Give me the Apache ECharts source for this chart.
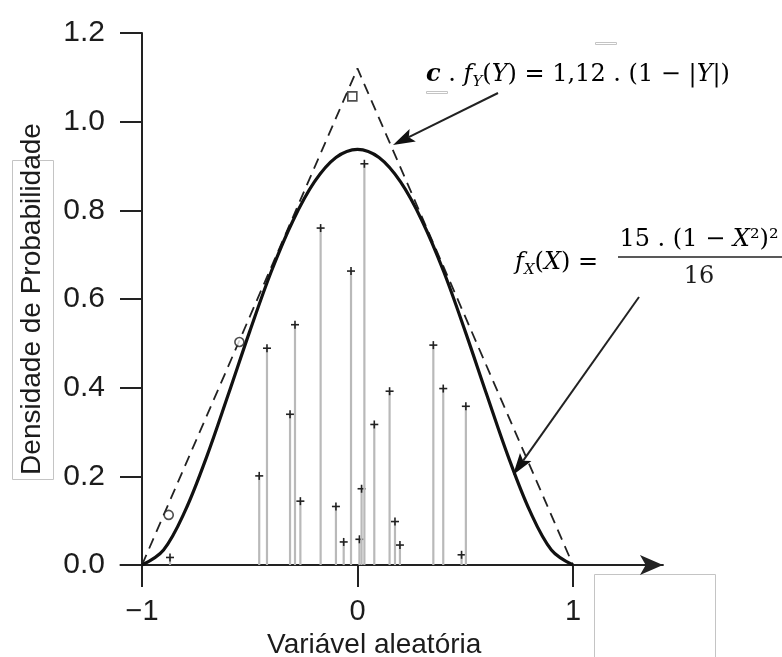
<!DOCTYPE html>
<html><head><meta charset="utf-8">
<script src="https://cdn.jsdelivr.net/npm/echarts@6/dist/echarts.min.js"></script>
<style>html,body{margin:0;padding:0;background:#fff}#c{width:782px;height:657px}</style>
</head><body><div id="c"></div>
<script>
// ---- data ----
const xTickValues = [-1, 0, 1];
const xTickLabels = ['−1', '0', '1'];
const yTickLabels = ['0.0', '0.2', '0.4', '0.6', '0.8', '1.0', '1.2'];

// sampled candidates (stems)
const sampleX = [-0.870, -0.456, -0.420, -0.313, -0.290, -0.265, -0.171, -0.100, -0.064, -0.030,
                 0.009, 0.019, 0.032, 0.078, 0.149, 0.174, 0.197, 0.352, 0.398, 0.483, 0.503];
const sampleY = [0.017, 0.201, 0.489, 0.340, 0.542, 0.144, 0.760, 0.132, 0.052, 0.663,
                 0.058, 0.172, 0.905, 0.317, 0.392, 0.098, 0.045, 0.496, 0.398, 0.023, 0.358];

// target density f_X (solid curve)
const targetX = [-1, -0.9, -0.8, -0.7, -0.6, -0.5, -0.4, -0.3, -0.2, -0.1, 0,
                 0.1, 0.2, 0.3, 0.4, 0.5, 0.6, 0.7, 0.8, 0.9, 1];
const targetY = [0, 0.034, 0.122, 0.244, 0.384, 0.527, 0.662, 0.776, 0.864, 0.919, 0.9375,
                 0.919, 0.864, 0.776, 0.662, 0.527, 0.384, 0.244, 0.122, 0.034, 0];

// envelope c.f_Y (dashed)
const envelopeX = [-1, 0, 1];
const envelopeY = [0, 1.12, 0];

// open markers
const circleX = [-0.876, -0.548];
const circleY = [0.113, 0.503];
const squareX = [-0.024];
const squareY = [1.057];

const zip = (a, b) => a.map((v, i) => [v, b[i]]);

const FONT = '"Liberation Sans", Arial, Helvetica, sans-serif';
const MATH = '"DejaVu Serif", "Liberation Serif", serif';
const INK = '#1c1c1c';

function arrow(x1, y1, x2, y2) {
  const dx = x2 - x1, dy = y2 - y1, L = Math.hypot(dx, dy);
  const ux = dx / L, uy = dy / L, px = -uy, py = ux;
  const hl = 22, hw = 7;
  const bx = x2 - ux * hl, by = y2 - uy * hl;
  const nx = x2 - ux * hl * 0.8, ny = y2 - uy * hl * 0.8;
  return [
    { type: 'line', shape: { x1: x1, y1: y1, x2: nx, y2: ny }, style: { stroke: '#222', lineWidth: 2 }, z: 50 },
    { type: 'polygon', shape: { points: [[x2, y2], [bx + px * hw, by + py * hw], [nx, ny], [bx - px * hw, by - py * hw]] },
      style: { fill: '#111' }, z: 50 }
  ];
}

const FS = 24;
const mainRich = {
  n: { fontFamily: MATH, fontSize: FS, color: INK, lineHeight: 30 },
  i: { fontFamily: MATH, fontSize: FS, fontStyle: 'italic', color: INK, lineHeight: 30 },
  b: { fontFamily: MATH, fontSize: FS, fontStyle: 'italic', fontWeight: 'bold', color: INK, lineHeight: 30 },
  s: { fontFamily: MATH, fontSize: 15, fontStyle: 'italic', color: INK, lineHeight: 30, verticalAlign: 'bottom', padding: [10, 0, 0, 0] }
};

const chart = echarts.init(document.getElementById('c'), null, { renderer: 'canvas' });
chart.setOption({
  animation: false,
  backgroundColor: '#fff',
  grid: { left: 120.45, top: 33, width: 542.5, height: 532, containLabel: false, outerBoundsMode: 'none' },
  xAxis: {
    type: 'value', min: -1.1, max: 1.4176,
    name: 'Variável aleatória', nameLocation: 'middle', nameGap: 60,
    nameTextStyle: { fontFamily: FONT, fontSize: 28, color: INK, padding: [0, 35, 0, 0] },
    axisLine: { show: true, onZero: false, lineStyle: { color: '#222', width: 2 },
                symbol: ['none', 'arrow'], symbolSize: [15, 23] },
    axisTick: { show: true, length: 22, customValues: xTickValues, lineStyle: { color: '#222', width: 2 } },
    axisLabel: { customValues: xTickValues, margin: 32, fontFamily: FONT, fontSize: 29, color: INK,
                 formatter: v => xTickLabels[xTickValues.indexOf(Math.round(v))] },
    splitLine: { show: false }
  },
  yAxis: {
    type: 'value', min: 0, max: 1.2, interval: 0.2, offset: -21.55,
    name: 'Densidade de Probabilidade', nameLocation: 'middle', nameGap: 96, nameRotate: 90,
    nameTextStyle: { fontFamily: FONT, fontSize: 28, color: INK },
    axisLine: { show: true, onZero: false, lineStyle: { color: '#222', width: 2 } },
    axisTick: { show: true, length: 22, lineStyle: { color: '#222', width: 2 } },
    axisLabel: { margin: 37, fontFamily: FONT, fontSize: 30, color: INK,
                 formatter: v => yTickLabels[Math.round(v / 0.2)] },
    splitLine: { show: false }
  },
  series: [
    {
      type: 'custom', z: 2, data: zip(sampleX, sampleY),
      renderItem: (params, api) => {
        const x = api.value(0), y = api.value(1);
        const b = api.coord([x, 0]), t = api.coord([x, y]);
        return { type: 'group', children: [
          { type: 'line', shape: { x1: b[0], y1: b[1], x2: t[0], y2: t[1] }, style: { stroke: '#b9b9b9', lineWidth: 2.2 } },
          { type: 'line', shape: { x1: t[0] - 4, y1: t[1], x2: t[0] + 4, y2: t[1] }, style: { stroke: '#222', lineWidth: 1.6 } },
          { type: 'line', shape: { x1: t[0], y1: t[1] - 4, x2: t[0], y2: t[1] + 4 }, style: { stroke: '#222', lineWidth: 1.6 } }
        ] };
      }
    },
    {
      type: 'line', z: 3, data: zip(envelopeX, envelopeY), showSymbol: false,
      lineStyle: { color: '#222', width: 1.8, type: [11, 7] }
    },
    {
      type: 'line', z: 4, data: zip(targetX, targetY), smooth: 0.35, showSymbol: false,
      lineStyle: { color: '#111', width: 3.2 }
    },
    {
      type: 'scatter', z: 5, data: zip(circleX, circleY), symbol: 'circle', symbolSize: 9,
      itemStyle: { color: '#fff', borderColor: '#222', borderWidth: 1.6 }
    },
    {
      type: 'scatter', z: 5, data: zip(squareX, squareY), symbol: 'rect', symbolSize: 9,
      itemStyle: { color: '#fff', borderColor: '#222', borderWidth: 1.6 }
    }
  ],
  graphic: [
    // box around y-axis title and bottom-right box
    { type: 'rect', shape: { x: 12.5, y: 160.5, width: 41, height: 319 }, style: { fill: 'none', stroke: '#c4c4c4', lineWidth: 1 }, z: 0 },
    { type: 'rect', shape: { x: 594.5, y: 574.5, width: 121, height: 100 }, style: { fill: 'none', stroke: '#c4c4c4', lineWidth: 1 }, z: 0 },
    // tiny grey marks
    { type: 'rect', shape: { x: 595.5, y: 42.5, width: 21, height: 2 }, style: { fill: 'none', stroke: '#c4c4c4', lineWidth: 1 }, z: 0 },
    { type: 'rect', shape: { x: 426.5, y: 91.5, width: 21, height: 2 }, style: { fill: 'none', stroke: '#c4c4c4', lineWidth: 1 }, z: 0 },
    // equation 1
    { type: 'text', x: 426, y: 75, z: 60,
      style: { text: '{b|c}{n| . }{i|f}{s|Y}{n|(}{i|Y}{n|) = 1,12 . (1 − |}{i|Y}{n||)}', rich: mainRich,
               verticalAlign: 'middle', align: 'left' } },
    // equation 2
    { type: 'text', x: 515, y: 263, z: 60,
      style: { text: '{i|f}{s|X}{n|(}{i|X}{n|) =}', rich: mainRich, verticalAlign: 'middle', align: 'left' } },
    { type: 'text', x: 699, y: 240, z: 60,
      style: { text: '{n|15 . (1 − }{i|X}{n|²)²}', rich: mainRich, verticalAlign: 'middle', align: 'center' } },
    { type: 'line', shape: { x1: 618, y1: 257, x2: 782, y2: 257 }, style: { stroke: '#222', lineWidth: 1.5 }, z: 60 },
    { type: 'text', x: 699, y: 277, z: 60,
      style: { text: '16', fontFamily: MATH, fontSize: FS, fill: INK, verticalAlign: 'middle', align: 'center' } },
    ...arrow(498, 93, 393, 145),
    ...arrow(639, 297, 513, 475)
  ]
});
</script>
</body></html>
